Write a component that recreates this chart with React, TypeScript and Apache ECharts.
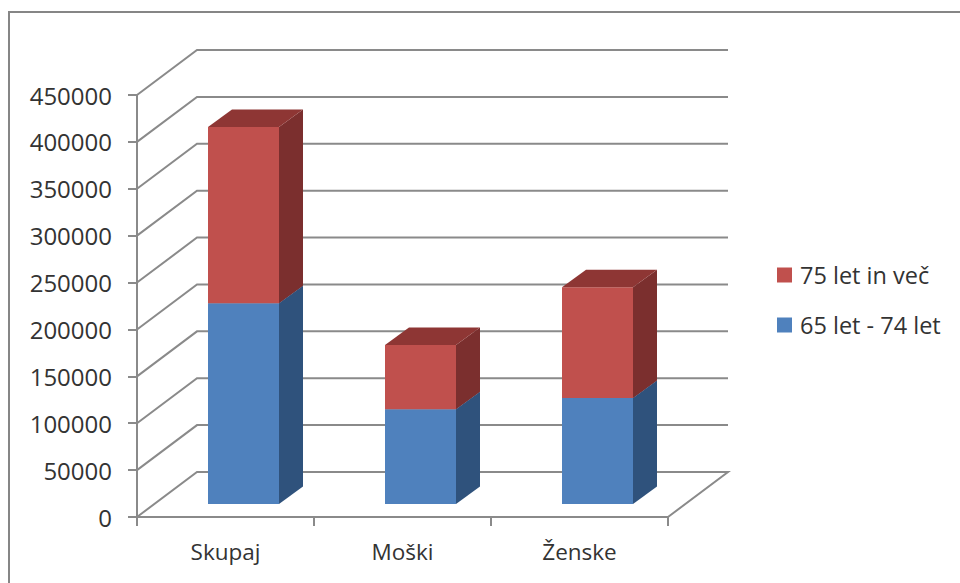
import React, { useEffect, useRef } from "react";
import * as echarts from "echarts";

const categories = ["Skupaj", "Moški", "Ženske"];
const olderName = "75 let in več";
const youngerName = "65 let - 74 let";
const younger = [214000, 101000, 113000];
const older = [188000, 68500, 118000];
const yTicks = [0, 50000, 100000, 150000, 200000, 250000, 300000, 350000, 400000, 450000];

const GRID = "#8a8a8a";
const WALL = [60, -45];
const FRONT = [18, -13];
const DEPTH = [24, -17.5];
const BAR_W = 71;

function poly(points: number[][], fill: string) {
  return { type: "polygon", shape: { points }, style: { fill, stroke: null } };
}

function boxItem(front: string, side: string, top: string) {
  return (_p: any, api: any) => {
    const c = api.coord([api.value(0), api.value(1)]);
    const e = api.coord([api.value(0), api.value(2)]);
    const x0 = c[0] + FRONT[0] - BAR_W / 2;
    const x1 = x0 + BAR_W;
    const yb = c[1] + FRONT[1];
    const yt = e[1] + FRONT[1];
    const [dx, dy] = DEPTH;
    return {
      type: "group",
      children: [
        poly([[x0, yt], [x1, yt], [x1, yb], [x0, yb]], front),
        poly([[x1, yt], [x1 + dx, yt + dy], [x1 + dx, yb + dy], [x1, yb]], side),
        poly([[x0, yt], [x0 + dx, yt + dy], [x1 + dx, yt + dy], [x1, yt]], top),
      ],
    };
  };
}

function wallItem(_p: any, api: any) {
  const a = api.coord([0, api.value(0)]);
  const halfBand = api.size([1, 0])[0] / 2;
  const x0 = a[0] - halfBand;
  const y0 = a[1];
  const xEnd = x0 + halfBand * 2 * categories.length;
  const points = [[x0, y0], [x0 + WALL[0], y0 + WALL[1]], [xEnd + WALL[0], y0 + WALL[1]]];
  if (api.value(0) === 0) points.push([xEnd, y0]);
  return {
    type: "polyline",
    shape: { points },
    style: { stroke: GRID, lineWidth: 2, fill: null },
  };
}

export default function App() {
  const ref = useRef<HTMLDivElement>(null);
  useEffect(() => {
    document.body.style.margin = "0";
    document.body.style.overflow = "hidden";
    const chart = echarts.init(ref.current!, null, { renderer: "svg" });
    const font = '"Open Sans", sans-serif';
    chart.setOption({
      animation: false,
      backgroundColor: "#ffffff",
      textStyle: { fontFamily: font },
      graphic: [
        {
          type: "rect",
          z: -10,
          shape: { x: 9, y: 12, width: 970, height: 590 },
          style: { fill: "#fff", stroke: "#868686", lineWidth: 2 },
        },
      ],
      grid: { left: 137, right: 292, top: 95, bottom: 66 },
      legend: {
        left: 772,
        top: 258,
        orient: "vertical",
        itemWidth: 15,
        itemHeight: 15,
        itemGap: 26,
        icon: "rect",
        data: [olderName, youngerName],
        textStyle: { fontSize: 23.5, color: "#333", fontFamily: font, padding: [0, 0, 0, 3] },
      },
      xAxis: {
        type: "category",
        data: categories,
        axisLine: { lineStyle: { color: GRID, width: 2 } },
        axisTick: { show: true, alignWithLabel: false, length: 9, lineStyle: { color: GRID, width: 2 } },
        axisLabel: { color: "#333", fontSize: 22.5, margin: 23, fontFamily: font },
        splitLine: { show: false },
      },
      yAxis: {
        type: "value",
        min: 0,
        max: 450000,
        interval: 50000,
        axisLine: { show: true, lineStyle: { color: GRID, width: 2 } },
        axisTick: { show: true, length: 9, lineStyle: { color: GRID, width: 2 } },
        axisLabel: { color: "#333", fontSize: 24, margin: 25, fontFamily: font, formatter: (v: number) => String(v) },
        splitLine: { show: false },
      },
      series: [
        {
          type: "custom",
          name: "walls",
          silent: true,
          z: 1,
          renderItem: wallItem,
          data: yTicks.map((t) => [t]),
          encode: { y: 0 },
        },
        {
          type: "custom",
          name: youngerName,
          z: 2,
          itemStyle: { color: "#4F81BD" },
          renderItem: boxItem("#4F81BD", "#2F527C", "#3A6494"),
          data: categories.map((_, i) => [i, 0, younger[i]]),
          encode: { x: 0, y: [1, 2] },
        },
        {
          type: "custom",
          name: olderName,
          z: 3,
          itemStyle: { color: "#C0504D" },
          renderItem: boxItem("#C0504D", "#7B2F2E", "#8E3634"),
          data: categories.map((_, i) => [i, younger[i], younger[i] + older[i]]),
          encode: { x: 0, y: [1, 2] },
        },
      ],
    });
    return () => chart.dispose();
  }, []);
  return <div ref={ref} style={{ width: 960, height: 583 }} />;
}
